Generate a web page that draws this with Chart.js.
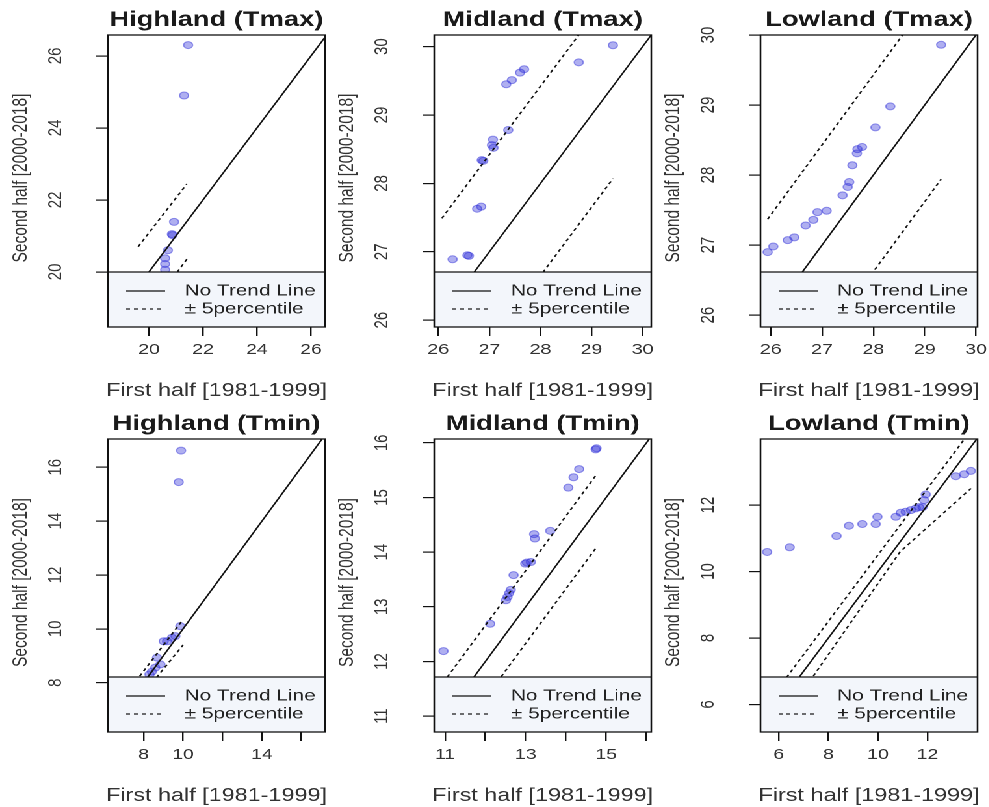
<!DOCTYPE html>
<html>
<head>
<meta charset="utf-8">
<script src="https://cdn.jsdelivr.net/npm/chart.js@4.4.1/dist/chart.umd.min.js"></script>
<style>
  html, body { margin: 0; padding: 0; background: #fff; overflow: hidden; }
  /* the reference figure is stretched horizontally, so the whole grid is too */
  #wrap { position: relative; width: 761px; height: 807px; transform: scaleX(1.3); transform-origin: 0 0; }
  #wrap canvas { position: absolute; }
</style>
</head>
<body>
<div id="wrap"></div>
<script>
// Shared texts
const xTitle = "First half [1981-1999]";
const yTitle = "Second half [2000-2018]";
const legendLabels = ["No Trend Line", "\u00b1 5percentile"];

// Highland (Tmax)
const hiTmaxX = [21.45, 21.3, 20.93, 20.85, 20.87, 20.7, 20.6, 20.6, 20.6];
const hiTmaxY = [26.3, 24.9, 21.39, 21.05, 21.02, 20.6, 20.38, 20.22, 20.06];
const hiTmaxUpX = [19.6, 21.4];
const hiTmaxUpY = [20.7, 22.44];
const hiTmaxLoX = [19.6, 21.45];
const hiTmaxLoY = [18.55, 20.4];
const hiTmaxXLim = [18.48, 26.52];
const hiTmaxYLim = [18.47, 26.58];
const hiTmaxXTicks = [20, 22, 24, 26];
const hiTmaxXLabels = ["20", "22", "24", "26"];
const hiTmaxYTicks = [20, 22, 24, 26];

// Midland (Tmax)
const midTmaxX = [29.42, 28.75, 27.68, 27.6, 27.44, 27.33, 27.37, 27.07, 27.05, 27.08, 26.85, 26.88, 26.76, 26.84, 26.6, 26.57, 26.28];
const midTmaxY = [30.02, 29.77, 29.67, 29.62, 29.51, 29.45, 28.78, 28.64, 28.56, 28.52, 28.34, 28.33, 27.63, 27.66, 26.94, 26.95, 26.89];
const midTmaxUpX = [26.07, 29.42];
const midTmaxUpY = [27.49, 30.84];
const midTmaxLoX = [26.07, 29.42];
const midTmaxLoY = [24.72, 28.07];
const midTmaxXLim = [25.92, 30.17];
const midTmaxYLim = [25.9, 30.17];
const midTmaxXTicks = [26, 27, 28, 29, 30];
const midTmaxXLabels = ["26", "27", "28", "29", "30"];
const midTmaxYTicks = [26, 27, 28, 29, 30];

// Lowland (Tmax)
const lowTmaxX = [29.32, 28.33, 28.04, 27.78, 27.69, 27.68, 27.59, 27.53, 27.5, 27.4, 27.09, 26.91, 26.83, 26.68, 26.46, 26.33, 26.05, 25.94];
const lowTmaxY = [29.86, 28.98, 28.68, 28.4, 28.37, 28.31, 28.14, 27.9, 27.83, 27.71, 27.49, 27.47, 27.36, 27.28, 27.11, 27.07, 26.98, 26.9];
const lowTmaxUpX = [25.94, 29.32];
const lowTmaxUpY = [27.37, 30.75];
const lowTmaxLoX = [25.94, 29.32];
const lowTmaxLoY = [24.56, 27.94];
const lowTmaxXLim = [25.8, 30.03];
const lowTmaxYLim = [25.83, 30.0];
const lowTmaxXTicks = [26, 27, 28, 29, 30];
const lowTmaxXLabels = ["26", "27", "28", "29", "30"];
const lowTmaxYTicks = [26, 27, 28, 29, 30];

// Highland (Tmin)
const hiTminX = [9.9, 9.78, 9.86, 9.61, 9.44, 9.19, 9.02, 8.68, 8.85, 8.59, 8.42, 8.3];
const hiTminY = [16.62, 15.45, 10.1, 9.73, 9.67, 9.54, 9.54, 8.93, 8.68, 8.56, 8.41, 8.31];
const hiTminUpX = [7.6, 9.9];
const hiTminUpY = [8.05, 10.25];
const hiTminLoX = [7.6, 10.0];
const hiTminLoY = [7.25, 9.4];
const hiTminXLim = [6.19, 17.2];
const hiTminYLim = [6.17, 17.05];
const hiTminXTicks = [8, 10, 12, 14, 16];
const hiTminXLabels = ["8", "10", "", "14", ""];
const hiTminYTicks = [8, 10, 12, 14, 16];

// Midland (Tmin)
const midTminX = [14.74, 14.76, 14.33, 14.19, 14.06, 13.61, 13.21, 13.23, 13.13, 13.03, 12.99, 12.7, 12.63, 12.59, 12.55, 12.51, 12.12, 10.96];
const midTminY = [15.88, 15.9, 15.52, 15.37, 15.18, 14.39, 14.33, 14.25, 13.82, 13.81, 13.79, 13.58, 13.31, 13.25, 13.18, 13.12, 12.69, 12.19];
const midTminUpX = [10.96, 14.74];
const midTminUpY = [11.62, 15.4];
const midTminLoX = [10.96, 14.74];
const midTminLoY = [10.29, 14.07];
const midTminXLim = [10.73, 16.12];
const midTminYLim = [10.71, 16.07];
const midTminXTicks = [11, 12, 13, 14, 15, 16];
const midTminXLabels = ["11", "", "13", "", "15", ""];
const midTminYTicks = [11, 12, 13, 14, 15, 16];

// Lowland (Tmin)
const lowTminX = [5.53, 6.44, 8.33, 8.83, 9.37, 9.91, 9.98, 10.72, 10.92, 11.12, 11.33, 11.53, 11.66, 11.8, 11.86, 11.93, 13.14, 13.48, 13.75];
const lowTminY = [10.59, 10.73, 11.07, 11.38, 11.43, 11.43, 11.65, 11.65, 11.77, 11.8, 11.85, 11.9, 11.94, 11.94, 12.15, 12.32, 12.87, 12.93, 13.03];
const lowTminUpX = [5.53, 13.75];
const lowTminUpY = [6.03, 14.25];
const lowTminLoX = [6.5, 10.9, 13.75];
const lowTminLoY = [5.9, 10.6, 12.5];
const lowTminXLim = [5.26, 14.02];
const lowTminYLim = [5.17, 13.99];
const lowTminXTicks = [6, 8, 10, 12];
const lowTminXLabels = ["6", "8", "10", "12"];
const lowTminYTicks = [6, 8, 10, 12];

const panels = [
  { title: "Highland (Tmax)", x: hiTmaxX, y: hiTmaxY, upX: hiTmaxUpX, upY: hiTmaxUpY, loX: hiTmaxLoX, loY: hiTmaxLoY,
    xLim: hiTmaxXLim, yLim: hiTmaxYLim, xTicks: hiTmaxXTicks, xLabels: hiTmaxXLabels, yTicks: hiTmaxYTicks },
  { title: "Midland (Tmax)", x: midTmaxX, y: midTmaxY, upX: midTmaxUpX, upY: midTmaxUpY, loX: midTmaxLoX, loY: midTmaxLoY,
    xLim: midTmaxXLim, yLim: midTmaxYLim, xTicks: midTmaxXTicks, xLabels: midTmaxXLabels, yTicks: midTmaxYTicks },
  { title: "Lowland (Tmax)", x: lowTmaxX, y: lowTmaxY, upX: lowTmaxUpX, upY: lowTmaxUpY, loX: lowTmaxLoX, loY: lowTmaxLoY,
    xLim: lowTmaxXLim, yLim: lowTmaxYLim, xTicks: lowTmaxXTicks, xLabels: lowTmaxXLabels, yTicks: lowTmaxYTicks },
  { title: "Highland (Tmin)", x: hiTminX, y: hiTminY, upX: hiTminUpX, upY: hiTminUpY, loX: hiTminLoX, loY: hiTminLoY,
    xLim: hiTminXLim, yLim: hiTminYLim, xTicks: hiTminXTicks, xLabels: hiTminXLabels, yTicks: hiTminYTicks },
  { title: "Midland (Tmin)", x: midTminX, y: midTminY, upX: midTminUpX, upY: midTminUpY, loX: midTminLoX, loY: midTminLoY,
    xLim: midTminXLim, yLim: midTminYLim, xTicks: midTminXTicks, xLabels: midTminXLabels, yTicks: midTminYTicks },
  { title: "Lowland (Tmin)", x: lowTminX, y: lowTminY, upX: lowTminUpX, upY: lowTminUpY, loX: lowTminLoX, loY: lowTminLoY,
    xLim: lowTminXLim, yLim: lowTminYLim, xTicks: lowTminXTicks, xLabels: lowTminXLabels, yTicks: lowTminYTicks },
];

const FONT = '"Liberation Sans", Arial, sans-serif';
Chart.defaults.font.family = FONT;

function pts(xs, ys) {
  return xs.map((v, i) => ({ x: v, y: ys[i] }));
}

// Draws the R-style extras: legend box at the bottom of the plot, plot frame and titles
const rDecor = {
  id: "rDecor",
  afterDatasetsDraw(chart, args, opts) {
    const { ctx, chartArea: a } = chart;
    const legTop = a.bottom - 55;
    ctx.save();
    ctx.fillStyle = "#f3f6fb";
    ctx.fillRect(a.left, legTop, a.right - a.left, a.bottom - legTop);
    ctx.strokeStyle = "#111";
    ctx.lineWidth = 1.2;
    ctx.beginPath();
    ctx.moveTo(a.left, legTop);
    ctx.lineTo(a.right, legTop);
    ctx.stroke();

    // legend samples
    ctx.beginPath();
    ctx.moveTo(a.left + 14, a.bottom - 36);
    ctx.lineTo(a.left + 44, a.bottom - 36);
    ctx.stroke();
    ctx.setLineDash([3, 3]);
    ctx.beginPath();
    ctx.moveTo(a.left + 14, a.bottom - 18);
    ctx.lineTo(a.left + 44, a.bottom - 18);
    ctx.stroke();
    ctx.setLineDash([]);
    ctx.fillStyle = "#222";
    ctx.font = "16px " + FONT;
    ctx.textAlign = "left";
    ctx.textBaseline = "middle";
    ctx.fillText(legendLabels[0], a.left + 59, a.bottom - 36);
    ctx.fillText(legendLabels[1], a.left + 59, a.bottom - 18);

    // frame
    ctx.lineWidth = 1.3;
    ctx.strokeRect(a.left, a.top, a.right - a.left, a.bottom - a.top);

    // titles
    const cx = (a.left + a.right) / 2;
    ctx.textAlign = "center";
    ctx.textBaseline = "alphabetic";
    ctx.fillStyle = "#1a1a1a";
    ctx.font = "bold 21px " + FONT;
    ctx.fillText(opts.title, cx, a.top - 9);
    ctx.fillStyle = "#333";
    ctx.font = "18px " + FONT;
    ctx.fillText(xTitle, cx, a.bottom + 69);
    ctx.translate(16, (a.top + a.bottom) / 2 - 3);
    ctx.rotate(-Math.PI / 2);
    ctx.textBaseline = "middle";
    ctx.font = "15.5px " + FONT;
    ctx.fillText(yTitle, 0, 0);
    ctx.restore();
  },
};

const wrap = document.getElementById("wrap");

panels.forEach((p, i) => {
  const col = i % 3;
  const row = Math.floor(i / 3);
  const canvas = document.createElement("canvas");
  canvas.width = 259;
  canvas.height = row ? 403 : 404;
  canvas.style.left = [0, 251, 502][col] + "px";
  canvas.style.top = (row ? 404 : 0) + "px";
  wrap.appendChild(canvas);

  const lo = Math.min(p.xLim[0], p.yLim[0]);
  const hi = Math.max(p.xLim[1], p.yLim[1]);
  const xHeight = row ? 75 : 77;

  new Chart(canvas, {
    type: "scatter",
    data: {
      datasets: [
        { data: [{ x: lo, y: lo }, { x: hi, y: hi }], showLine: true, borderColor: "#111",
          borderWidth: 1.3, pointRadius: 0, order: 1 },
        { data: pts(p.upX, p.upY), showLine: true, borderColor: "#111", borderWidth: 1.3,
          borderDash: [3, 3], pointRadius: 0, order: 1 },
        { data: pts(p.loX, p.loY), showLine: true, borderColor: "#111", borderWidth: 1.3,
          borderDash: [3, 3], pointRadius: 0, order: 1 },
        { data: pts(p.x, p.y), pointRadius: 3.5, pointBorderWidth: 1,
          backgroundColor: "rgba(45,45,215,0.38)", borderColor: "rgba(45,45,215,0.48)", order: 2 },
      ],
    },
    options: {
      responsive: false,
      animation: false,
      devicePixelRatio: 2,
      events: [],
      layout: { padding: { left: 0, top: 35, right: 9, bottom: 0 } },
      plugins: {
        legend: { display: false },
        tooltip: { enabled: false },
        rDecor: { title: p.title },
      },
      scales: {
        x: {
          type: "linear",
          min: p.xLim[0],
          max: p.xLim[1],
          bounds: "data",
          afterBuildTicks: (s) => { s.ticks = p.xTicks.map((v) => ({ value: v })); },
          afterFit: (s) => { s.height = xHeight; s.paddingLeft = 0; s.paddingRight = 0; },
          grid: { drawOnChartArea: false, drawTicks: true, tickLength: 9, color: "#111", lineWidth: 1.2 },
          border: { display: false },
          ticks: {
            autoSkip: false, maxRotation: 0, padding: 5, color: "#333",
            font: { size: 15 },
            callback: (v, idx) => p.xLabels[idx],
          },
        },
        y: {
          type: "linear",
          min: p.yLim[0],
          max: p.yLim[1],
          bounds: "data",
          afterBuildTicks: (s) => { s.ticks = p.yTicks.map((v) => ({ value: v })); },
          afterFit: (s) => { s.width = 83; s.paddingTop = 0; s.paddingBottom = 0; },
          grid: { drawOnChartArea: false, drawTicks: true, tickLength: 9, color: "#111", lineWidth: 1.2 },
          border: { display: false },
          ticks: {
            autoSkip: false, minRotation: 90, maxRotation: 90, crossAlign: "center", padding: 23,
            color: "#333", font: { size: 15 },
            callback: (v) => String(v),
          },
        },
      },
    },
    plugins: [rDecor],
  });
});
</script>
</body>
</html>
